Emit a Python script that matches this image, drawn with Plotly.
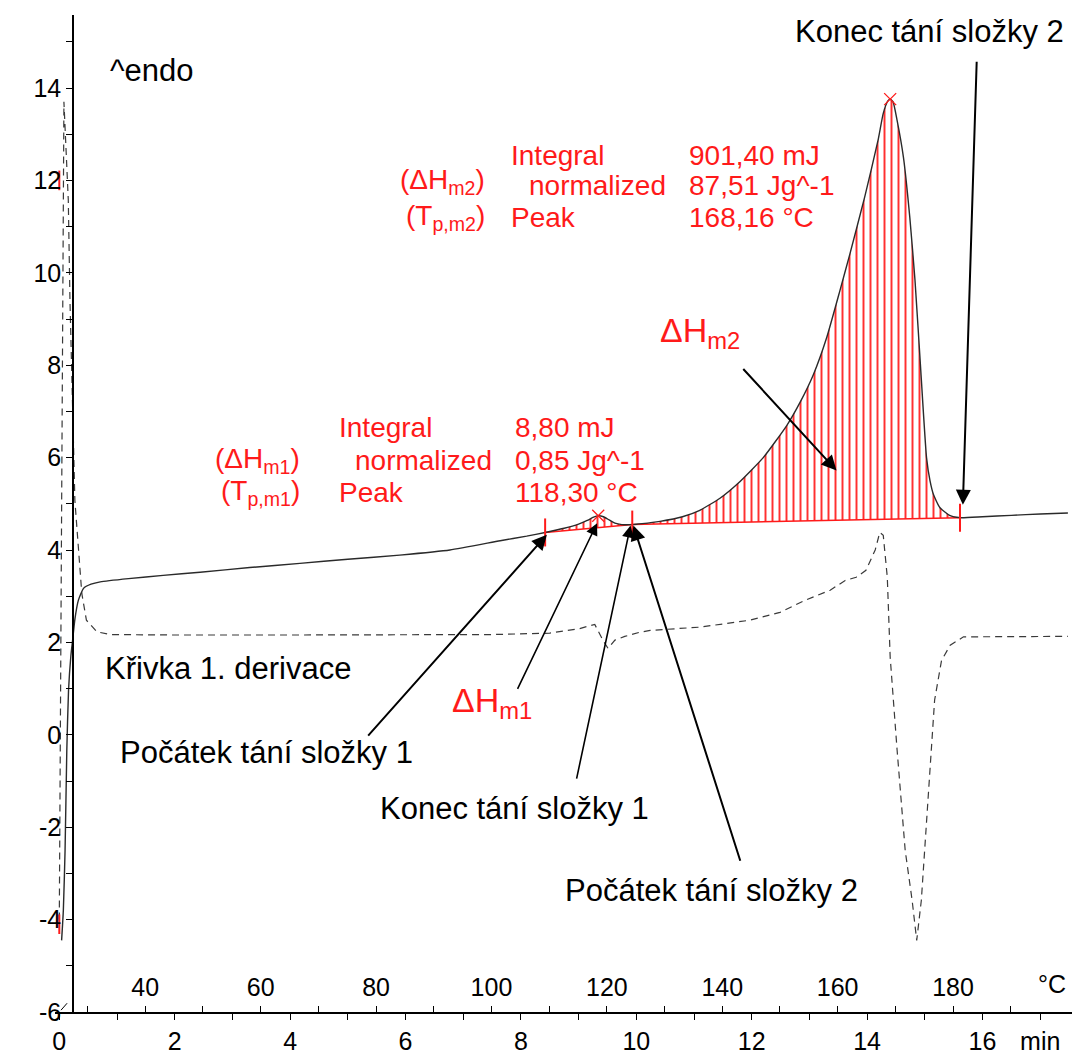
import numpy as np
import plotly.graph_objects as go

# ---------------- data ----------------
# DSC curve: time [min] -> heat flow [mW]
t_dsc = [0.04, 0.07, 0.10, 0.13, 0.16, 0.20, 0.23, 0.27, 0.33, 0.42,
         0.55, 0.71, 1.2, 1.8, 2.44, 3.3, 4.17, 5.0, 5.9, 6.77,
         7.64, 8.1, 8.42, 8.75, 9.0, 9.15, 9.26, 9.34, 9.43, 9.53,
         9.63, 9.75, 9.93, 10.1, 10.41, 10.8, 11.1, 11.45, 11.77, 12.2,
         12.61, 12.84, 13.07, 13.3, 13.53, 13.7, 13.96, 14.19, 14.28, 14.36,
         14.40, 14.45, 14.52, 14.63, 14.74, 14.83, 14.93, 15.03, 15.09, 15.15,
         15.26, 15.43, 15.61, 16.0, 16.5, 17.0, 17.48]
y_dsc = [-4.45, -3.8, -2.5, -0.34, 0.96, 1.7, 2.04, 2.5, 2.91, 3.17,
         3.26, 3.31, 3.38, 3.45, 3.52, 3.62, 3.71, 3.8, 3.89, 4.0,
         4.2, 4.3, 4.38, 4.47, 4.56, 4.64, 4.71, 4.74, 4.72, 4.65,
         4.58, 4.55, 4.55, 4.57, 4.62, 4.72, 4.86, 5.12, 5.45, 6.0,
         6.7, 7.2, 7.8, 8.6, 9.62, 10.4, 11.65, 12.87, 13.45, 13.72,
         13.76, 13.7, 13.3, 12.5, 11.2, 9.84, 7.89, 6.0, 5.5, 5.2,
         4.92, 4.75, 4.70, 4.72, 4.75, 4.78, 4.80]

# first derivative curve (dashed)
t_der = [0.0, 0.08, 0.156, 0.185, 0.27, 0.33, 0.39, 0.47, 0.65, 0.88,
         2.0, 4.0, 6.0, 7.5, 8.5, 9.02, 9.28, 9.42, 9.51, 9.63,
         9.8, 10.06, 10.24, 11.1, 11.97, 12.49, 12.92, 13.36, 13.62, 13.81,
         13.98, 14.14, 14.22, 14.28, 14.35, 14.4, 14.52, 14.66, 14.78, 14.86,
         14.94, 15.05, 15.17, 15.29, 15.44, 15.67, 16.5, 17.48]
y_der = [-4.0, 13.7, 11.57, 9.4, 5.07, 3.99, 3.06, 2.48, 2.23, 2.17,
         2.16, 2.16, 2.16, 2.17, 2.2, 2.3, 2.39, 2.05, 1.87, 2.05,
         2.13, 2.22, 2.26, 2.33, 2.48, 2.65, 2.91, 3.13, 3.34, 3.41,
         3.56, 4.0, 4.38, 4.32, 3.41, 1.68, -0.33, -2.5, -3.58, -4.45,
         -3.58, -1.41, 0.75, 1.61, 1.94, 2.12, 2.13, 2.13]

# characteristic points
onset1_t, end1_t = 8.42, 9.93
peak1_t = 9.34
end2_t = 15.61
peak2_t = 14.40
start_marks_y = [12.0, -4.1]

# axis ticks
min_major = [0, 2, 4, 6, 8, 10, 12, 14, 16, 17]
min_major_text = ["0", "2", "4", "6", "8", "10", "12", "14", "16", "min"]
min_minor = [1, 3, 5, 7, 9, 11, 13, 15]
degC_major = [40, 60, 80, 100, 120, 140, 160, 180]
degC_minor = [30, 50, 70, 90, 110, 130, 150, 170, 190]
mw_major = [-6, -4, -2, 0, 2, 4, 6, 8, 10, 12, 14]
mw_major_text = ["-6", "-4", "-2", "0", "2", "4", "6", "8", "10", "12", "14"]
mw_minor = [-5, -3, -1, 1, 3, 5, 7, 9, 11, 13, 15]
T_at_t0 = 25.1      # temperature at t = 0 min
rate = 10.0         # K/min

# ---------------- figure ----------------
FONT = "Arial, 'Liberation Sans', sans-serif"
RED = "#ff1a1a"
tx = np.array(t_dsc)
ty = np.array(y_dsc)
f = lambda t: float(np.interp(t, tx, ty))

fig = go.Figure()


def integral_area(t0, t1):
    y0, y1 = f(t0), f(t1)
    m = (tx > t0) & (tx < t1)
    xs = np.concatenate([[t0], tx[m], [t1]])
    ys = np.concatenate([[y0], ty[m], [y1]])
    # baseline
    fig.add_trace(go.Scatter(x=[t0, t1], y=[y0, y1], mode="lines",
                             line=dict(color=RED, width=1.5), showlegend=False,
                             hoverinfo="skip"))
    fig.add_trace(go.Scatter(x=xs, y=ys, mode="lines",
                             line=dict(width=0, color="rgba(0,0,0,0)", shape="spline", smoothing=0.5),
                             fill="tonexty", fillcolor="rgba(255,255,255,0)",
                             fillpattern=dict(shape="|", fgcolor="#ff3030", bgcolor="rgba(255,255,255,0)",
                                              size=7, solidity=0.28, fillmode="replace"),
                             showlegend=False, hoverinfo="skip"))


integral_area(onset1_t, end1_t)
integral_area(end1_t, end2_t)

# derivative curve
fig.add_trace(go.Scatter(x=t_der, y=y_der, mode="lines",
                         line=dict(color="#3a3a3a", width=1.2, dash="7px,5px"),
                         showlegend=False))
# DSC curve
fig.add_trace(go.Scatter(x=t_dsc, y=y_dsc, mode="lines",
                         line=dict(color="#2a2a2a", width=1.4, shape="spline", smoothing=0.5),
                         showlegend=False))

# limit markers
lim_t = [onset1_t, end1_t, end2_t]
fig.add_trace(go.Scatter(x=lim_t, y=[f(t) for t in lim_t], mode="markers",
                         marker=dict(symbol="line-ns-open", size=20, color=RED,
                                     line=dict(color=RED, width=2)),
                         showlegend=False))
fig.add_trace(go.Scatter(x=[0.0, 0.0], y=start_marks_y, mode="markers",
                         marker=dict(symbol="line-ns-open", size=14, color=RED,
                                     line=dict(color=RED, width=2)),
                         showlegend=False))
# peak markers
pk_t = [peak1_t, peak2_t]
fig.add_trace(go.Scatter(x=pk_t, y=[f(t) for t in pk_t], mode="markers",
                         marker=dict(symbol="x-thin-open", size=12, color=RED,
                                     line=dict(color=RED, width=1.3)),
                         showlegend=False))

# invisible trace so that the temperature axis is drawn
fig.add_trace(go.Scatter(x=degC_major, y=[None] * len(degC_major), xaxis="x2", yaxis="y",
                         mode="lines", showlegend=False, hoverinfo="skip"))

# ---------------- annotations ----------------
ann = []


def txt(x, y, s, size=31, color="black", xanchor="left", yanchor="middle"):
    ann.append(dict(x=x, y=y, xref="x", yref="y", text=s, showarrow=False,
                    xanchor=xanchor, yanchor=yanchor,
                    font=dict(family=FONT, size=size, color=color)))


def arrow(xt, yt, xa, ya, width=2.0):
    ann.append(dict(x=xt, y=yt, ax=xa, ay=ya, xref="x", yref="y", axref="x", ayref="y",
                    text="", showarrow=True, arrowhead=2, arrowsize=1.5, arrowwidth=width,
                    arrowcolor="black"))


txt(-0.386, 15.25, "mW", size=25, xanchor="center")
txt(0.845, 14.38, "^endo", size=31)
txt(15.09, 15.23, "Konec tání složky 2", size=31, xanchor="center")

# results block peak 2
txt(7.41, 11.98, "(ΔH<sub>m2</sub>)", size=28, color=RED, xanchor="right")
txt(7.41, 11.20, "(T<sub>p,m2</sub>)", size=28, color=RED, xanchor="right")
txt(7.79, 12.54, "Integral", size=28, color=RED)
txt(8.11, 11.89, "normalized", size=28, color=RED)
txt(7.79, 11.20, "Peak", size=28, color=RED)
txt(10.88, 12.54, "901,40 mJ", size=28, color=RED)
txt(10.88, 11.89, "87,51 Jg^-1", size=28, color=RED)
txt(10.88, 11.20, "168,16 °C", size=28, color=RED)

# results block peak 1
txt(4.21, 5.94, "(ΔH<sub>m1</sub>)", size=28, color=RED, xanchor="right")
txt(4.21, 5.25, "(T<sub>p,m1</sub>)", size=28, color=RED, xanchor="right")
txt(4.81, 6.66, "Integral", size=28, color=RED)
txt(5.09, 5.94, "normalized", size=28, color=RED)
txt(4.81, 5.25, "Peak", size=28, color=RED)
txt(7.86, 6.66, "8,80 mJ", size=28, color=RED)
txt(7.86, 5.94, "0,85 Jg^-1", size=28, color=RED)
txt(7.86, 5.25, "118,30 °C", size=28, color=RED)

txt(10.38, 8.70, "ΔH<sub>m2</sub>", size=34, color=RED)
txt(6.77, 0.70, "ΔH<sub>m1</sub>", size=34, color=RED)
txt(0.76, 1.44, "Křivka 1. derivace", size=31)
txt(1.02, -0.38, "Počátek tání složky 1", size=31)
txt(5.52, -1.59, "Konec tání složky 1", size=31)
txt(8.73, -3.36, "Počátek tání složky 2", size=31)
txt(17.2, -5.39, "°C", size=25, xanchor="center")

# arrows (tip, tail)
arrow(onset1_t + 0.03, f(onset1_t) - 0.05, 5.33, -0.05)
arrow(peak1_t - 0.02, f(peak1_t) - 0.16, 7.93, 0.96, width=1.6)
arrow(end1_t - 0.03, f(end1_t) - 0.02, 8.96, -0.98, width=1.6)
arrow(end1_t + 0.02, f(end1_t) - 0.02, 11.81, -2.76)
arrow(13.47, 5.72, 11.83, 7.95)
arrow(end2_t + 0.05, f(end2_t) + 0.28, 15.9, 14.6)

# ---------------- layout ----------------
L, R, T, B = 55, 0, 15, 45
W, H = 1072, 1057
px_per_min = 57.7
t_left = (L - 59.3) / px_per_min
t_right = (W - R - 59.3) / px_per_min
yaxis_pos = (73 - L) / (W - L - R)

tickfont = dict(family=FONT, size=25, color="black")

fig.update_layout(
    width=W, height=H,
    margin=dict(l=L, r=R, t=T, b=B, pad=0),
    paper_bgcolor="white", plot_bgcolor="white",
    showlegend=False,
    annotations=ann,
    xaxis=dict(range=[t_left, t_right], showgrid=False, zeroline=False,
               showline=True, linecolor="black", linewidth=1.5,
               tickmode="array", tickvals=min_major, ticktext=min_major_text,
               ticks="outside", ticklen=6, tickwidth=1.2, tickcolor="black",
               minor=dict(tickmode="array", tickvals=min_minor, ticks="outside", ticklen=6,
                          tickwidth=1.2, tickcolor="black", showgrid=False),
               tickfont=tickfont, automargin=False),
    xaxis2=dict(range=[T_at_t0 + rate * t_left, T_at_t0 + rate * t_right],
                overlaying="x", anchor="free", position=0, side="top",
                showgrid=False, zeroline=False, showline=False,
                tickmode="array", tickvals=degC_major,
                ticks="outside", ticklen=6, tickwidth=1.2, tickcolor="black",
                minor=dict(tickmode="array", tickvals=degC_minor, ticks="outside", ticklen=6,
                           tickwidth=1.2, tickcolor="black", showgrid=False),
                tickfont=tickfont, automargin=False),
    yaxis=dict(range=[-6, -6 + (H - T - B) / 46.2], anchor="free", position=yaxis_pos,
               showgrid=False, zeroline=False, showline=True, linecolor="black", linewidth=1.5,
               tickmode="array", tickvals=mw_major, ticktext=mw_major_text,
               ticks="outside", ticklen=6, tickwidth=1.2, tickcolor="black",
               minor=dict(tickmode="array", tickvals=mw_minor, ticks="outside", ticklen=6,
                          tickwidth=1.2, tickcolor="black", showgrid=False),
               tickfont=tickfont, automargin=False),
    shapes=[dict(type="line", xref="x", yref="y", x0=0.03, y0=-5.96, x1=0.135, y1=-5.81,
                 line=dict(color="black", width=1))],
)

fig.write_html("out.html")
